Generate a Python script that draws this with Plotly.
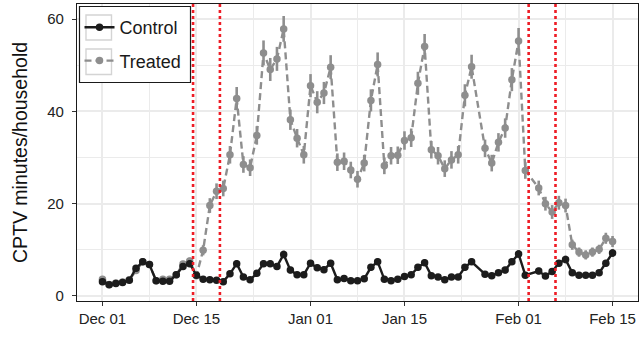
import pandas as pd
import plotly.graph_objects as go

# Daily series, Dec 1 to Feb 15 (no observations on Jan 26 and Feb 3)
all_days = pd.date_range("2017-12-01", "2018-02-15", freq="D")
missing_days = pd.to_datetime(["2018-01-26", "2018-02-03"])
dates = all_days[~all_days.isin(missing_days)]

control = [
    3.1, 2.4, 2.7, 2.9, 3.4, 6.0, 7.4, 6.8, 3.3, 3.2, 3.2, 4.6, 6.4, 7.0,
    4.5, 3.6, 3.5, 3.4, 3.1, 4.8, 7.0, 4.1, 3.5, 4.9, 7.0, 7.0, 6.4, 9.0,
    5.6, 4.6, 4.6, 7.1, 6.1, 5.7, 7.1, 3.5, 3.8, 3.3, 3.3, 3.7, 6.2, 7.4,
    3.6, 3.3, 3.6, 4.2, 4.6, 6.2, 7.2, 4.4, 4.1, 3.5, 4.1, 4.1, 6.2, 7.4,
    4.7, 4.4, 5.0, 5.6, 7.4, 9.1, 4.5, 5.4, 4.3, 5.3, 7.1, 7.9,
    5.0, 4.5, 4.5, 4.5, 5.0, 7.1, 9.3,
]
control_se = [
    0.6, 0.6, 0.6, 0.6, 0.6, 0.7, 0.7, 0.7, 0.6, 0.6, 0.6, 0.6, 0.7, 0.7,
    0.6, 0.6, 0.6, 0.6, 0.6, 0.6, 0.7, 0.6, 0.6, 0.6, 0.7, 0.7, 0.7, 0.8,
    0.7, 0.6, 0.6, 0.7, 0.7, 0.7, 0.7, 0.6, 0.6, 0.6, 0.6, 0.6, 0.7, 0.7,
    0.6, 0.6, 0.6, 0.6, 0.6, 0.7, 0.7, 0.6, 0.6, 0.6, 0.6, 0.6, 0.7, 0.7,
    0.6, 0.6, 0.6, 0.7, 0.7, 0.8, 0.6, 0.7, 0.6, 0.7, 0.7, 0.8,
    0.6, 0.6, 0.6, 0.6, 0.6, 0.7, 0.8,
]
treated = [
    3.6, 2.5, 2.8, 3.0, 3.5, 5.5, 7.4, 6.8, 3.3, 3.6, 3.6, 4.6, 6.9, 7.6,
    4.4, 9.9, 19.6, 22.7, 23.3, 30.6, 42.8, 28.5, 27.8, 34.8, 52.7, 49.1, 51.4, 57.9,
    38.2, 34.2, 30.6, 45.6, 42.0, 44.0, 49.6, 29.0, 29.2, 27.3, 25.3, 28.8, 42.4, 50.2,
    28.2, 30.4, 30.5, 33.7, 34.3, 46.1, 54.1, 31.7, 30.4, 27.6, 29.5, 30.6, 43.5, 49.7,
    32.0, 28.8, 33.3, 36.4, 46.9, 55.3, 27.2, 23.4, 20.0, 18.2, 20.2, 19.6,
    11.1, 9.5, 8.9, 9.5, 10.1, 12.5, 11.8,
]
treated_se = [
    0.6, 0.6, 0.6, 0.6, 0.6, 0.7, 0.7, 0.7, 0.6, 0.6, 0.6, 0.6, 0.7, 0.7,
    0.7, 1.1, 1.6, 1.7, 1.7, 1.9, 2.5, 1.8, 1.8, 2.0, 2.7, 2.5, 2.6, 2.8,
    2.2, 2.0, 1.9, 2.5, 2.4, 2.4, 2.6, 1.9, 1.9, 1.8, 1.8, 1.8, 2.4, 2.6,
    1.8, 1.9, 1.9, 2.0, 2.0, 2.5, 2.7, 1.9, 1.9, 1.8, 1.9, 1.9, 2.4, 2.6,
    1.9, 1.8, 2.0, 2.1, 2.5, 2.8, 1.8, 1.6, 1.5, 1.5, 1.5, 1.5,
    1.1, 1.0, 1.0, 1.0, 1.0, 1.2, 1.2,
]

# Campaign start/end markers
event_times = ["2017-12-14 12:00", "2017-12-18 12:00", "2018-02-02 12:00", "2018-02-06 12:00"]

x_ticks = ["2017-12-01", "2017-12-15", "2018-01-01", "2018-01-15", "2018-02-01", "2018-02-15"]
x_minor = ["2017-12-08", "2017-12-23 12:00", "2018-01-08", "2018-01-23 12:00", "2018-02-08"]
y_ticks = [0, 20, 40, 60]
y_minor = [10, 30, 50]

CONTROL_COLOR = "#1c1c1c"
TREATED_COLOR = "#8e8e8e"

W, H = 639, 337
M = dict(l=77, r=1, t=4, b=36)
PW, PH = W - M["l"] - M["r"], H - M["t"] - M["b"]


def px_x(px):
    """Pixel column -> paper x."""
    return (px - M["l"]) / PW


def px_y(py):
    """Pixel row -> paper y."""
    return 1 - (py - M["t"]) / PH


fig = go.Figure()

fig.add_trace(go.Scatter(
    x=dates, y=treated, name="Treated", mode="lines+markers",
    line=dict(color=TREATED_COLOR, width=2.4, dash="7px,4px"),
    marker=dict(color=TREATED_COLOR, size=7.5),
    error_y=dict(type="data", array=treated_se, color=TREATED_COLOR, thickness=2.6, width=0),
    legendrank=2, legendgroup="t",
))
fig.add_trace(go.Scatter(
    x=dates, y=control, name="Control", mode="lines+markers",
    line=dict(color=CONTROL_COLOR, width=2.4),
    marker=dict(color=CONTROL_COLOR, size=7.5),
    error_y=dict(type="data", array=control_se, color=CONTROL_COLOR, thickness=2.6, width=0),
    legendrank=1, legendgroup="c",
))

for t in event_times:
    fig.add_shape(type="line", xref="x", yref="paper", x0=t, x1=t, y0=0, y1=1,
                  line=dict(color="#ee1c25", width=2.6, dash="dot"), layer="above")

# Legend frame and key boxes
fig.add_shape(type="rect", xref="paper", yref="paper",
              x0=px_x(79.5), x1=px_x(190.5), y0=px_y(82.5), y1=px_y(6.5),
              fillcolor="white", line=dict(color="#1a1a1a", width=1.2), layer="above")
for top, bottom in [(15.0, 40.0), (49.0, 74.5)]:
    fig.add_shape(type="rect", xref="paper", yref="paper",
                  x0=px_x(86), x1=px_x(111.5), y0=px_y(bottom), y1=px_y(top),
                  fillcolor="white", line=dict(color="#d4d4d4", width=1.4), layer="above")

grid = "#ebebeb"
fig.update_layout(
    width=W, height=H,
    margin=M,
    paper_bgcolor="white", plot_bgcolor="white",
    font=dict(family="Liberation Sans, Arial, sans-serif", color="#1a1a1a"),
    showlegend=True,
    legend=dict(
        x=px_x(79.5), y=px_y(9.0), xanchor="left", yanchor="top",
        bgcolor="rgba(0,0,0,0)", borderwidth=0,
        font=dict(size=18, color="#1a1a1a"),
        tracegroupgap=7, itemwidth=30,
    ),
    xaxis=dict(
        type="date",
        range=["2017-11-27 05:00", "2018-02-18 19:00"],
        tickvals=x_ticks, tickformat="%b %d",
        ticks="outside", ticklen=4, tickcolor="#333333", tickwidth=1,
        tickfont=dict(size=15, color="#222222"),
        showgrid=True, gridcolor=grid, gridwidth=1.6,
        minor=dict(tickmode="array", tickvals=x_minor, showgrid=True, gridcolor=grid, gridwidth=0.8, ticks=""),
        showline=True, linecolor="#1a1a1a", linewidth=1.2, mirror=True,
        zeroline=False,
    ),
    yaxis=dict(
        range=[-1.1, 63.3],
        tickvals=y_ticks,
        ticks="outside", ticklen=4, tickcolor="#333333", tickwidth=1,
        tickfont=dict(size=15, color="#222222"),
        ticklabelstandoff=5,
        showgrid=True, gridcolor=grid, gridwidth=1.6,
        minor=dict(tickmode="array", tickvals=y_minor, showgrid=True, gridcolor=grid, gridwidth=0.8, ticks=""),
        showline=True, linecolor="#1a1a1a", linewidth=1.2, mirror=True,
        zeroline=False,
        title=dict(text="CPTV minutes/household", font=dict(size=19.5, color="#111111"), standoff=14),
    ),
)

fig.write_html("out.html")
